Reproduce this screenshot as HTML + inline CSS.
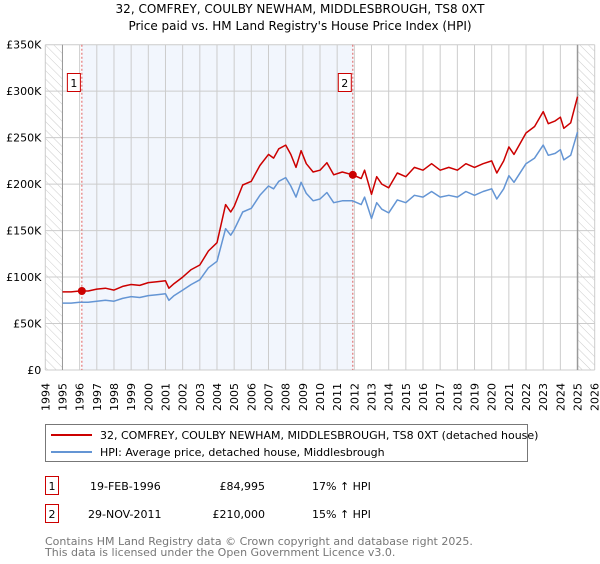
<!DOCTYPE html>
<html><head><meta charset="utf-8">
<style>
body{margin:0;background:#fff;font-family:"DejaVu Sans","Liberation Sans",sans-serif;}
svg text{font-family:"DejaVu Sans","Liberation Sans",sans-serif;}
</style></head>
<body>
<svg id="chart" width="600" height="560" xmlns="http://www.w3.org/2000/svg">
<defs>
<pattern id="hatch" width="6" height="6" patternUnits="userSpaceOnUse" patternTransform="rotate(-45)">
<line x1="0" y1="0" x2="0" y2="6" stroke="#ccc" stroke-width="1"/>
</pattern>
</defs>
<text x="300" y="13" text-anchor="middle" font-size="12">32, COMFREY, COULBY NEWHAM, MIDDLESBROUGH, TS8 0XT</text>
<text x="300" y="30" text-anchor="middle" font-size="12">Price paid vs. HM Land Registry's House Price Index (HPI)</text>
<g id="plot"></g>
<g>
<rect x="45.5" y="424.5" width="482" height="37" fill="#fff" stroke="#777"/>
<line x1="51" y1="435" x2="92" y2="435" stroke="#cc0000" stroke-width="2"/>
<text x="100" y="439" font-size="11">32, COMFREY, COULBY NEWHAM, MIDDLESBROUGH, TS8 0XT (detached house)</text>
<line x1="51" y1="452" x2="92" y2="452" stroke="#6495d4" stroke-width="2"/>
<text x="100" y="456" font-size="11">HPI: Average price, detached house, Middlesbrough</text>
</g>
<g>
<rect x="45.5" y="476.5" width="13" height="18" fill="#fff" stroke="#cc0000"/>
<text x="52" y="490" font-size="11" text-anchor="middle">1</text>
<text x="90" y="490" font-size="11">19-FEB-1996</text>
<text x="265" y="490" font-size="11" text-anchor="end">£84,995</text>
<text x="312" y="490" font-size="11">17% ↑ HPI</text>
<rect x="45.5" y="504.5" width="13" height="18" fill="#fff" stroke="#cc0000"/>
<text x="52" y="518" font-size="11" text-anchor="middle">2</text>
<text x="88" y="518" font-size="11">29-NOV-2011</text>
<text x="265" y="518" font-size="11" text-anchor="end">£210,000</text>
<text x="312" y="518" font-size="11">15% ↑ HPI</text>
</g>
<text x="45" y="545" font-size="11" fill="#777">Contains HM Land Registry data © Crown copyright and database right 2025.</text>
<text x="45" y="556" font-size="11" fill="#777">This data is licensed under the Open Government Licence v3.0.</text>
</svg>
<script>
const years=[1995,1995.5,1996,1996.5,1997,1997.5,1998,1998.5,1999,1999.5,2000,2000.5,2001,2001.2,2001.5,2002,2002.5,2003,2003.5,2004,2004.5,2004.8,2005,2005.5,2006,2006.5,2007,2007.3,2007.6,2008,2008.3,2008.6,2008.9,2009.2,2009.6,2010,2010.4,2010.8,2011.3,2011.9,2012.4,2012.6,2013,2013.3,2013.6,2014,2014.5,2015,2015.5,2016,2016.5,2017,2017.5,2018,2018.5,2019,2019.5,2020,2020.3,2020.7,2021,2021.3,2022,2022.5,2023,2023.3,2023.7,2024,2024.2,2024.6,2025.0];
const propertyValues=[84,84,85,85,87,88,86,90,92,91,94,95,96,88,93,100,108,113,128,137,178,170,176,199,203,220,232,228,238,242,232,218,236,222,213,215,223,210,213,210,206,215,189,208,200,196,212,208,218,215,222,215,218,215,222,218,222,225,212,225,240,232,255,262,278,265,268,272,260,266,294];
const hpiValues=[72,72,73,73,74,75,74,77,79,78,80,81,82,75,80,86,92,97,110,117,152,145,151,170,174,188,198,195,203,207,198,186,202,190,182,184,191,180,182,182,178,186,163,180,173,169,183,180,188,186,192,186,188,186,192,188,192,195,184,195,209,202,222,228,242,231,233,237,226,231,256];
const yTicks=[0,50,100,150,200,250,300,350];
const yTickLabels=["£0","£50K","£100K","£150K","£200K","£250K","£300K","£350K"];
const xTicks=[1994,1995,1996,1997,1998,1999,2000,2001,2002,2003,2004,2005,2006,2007,2008,2009,2010,2011,2012,2013,2014,2015,2016,2017,2018,2019,2020,2021,2022,2023,2024,2025,2026];
const saleYears=[1996.13,2011.91];
const saleValues=[84.995,210];
const saleLabels=["1","2"];

const L=45.3,R=594.7,T=44.7,B=370;
const X=y=>L+(y-1994)/32*(R-L);
const Y=v=>B-v/350*(B-T);
const NS="http://www.w3.org/2000/svg";
const g=document.getElementById('plot');
function mk(tag,attrs,parent){const e=document.createElementNS(NS,tag);for(const k in attrs)e.setAttribute(k,attrs[k]);(parent||g).appendChild(e);return e;}

let r=mk('rect',{x:L,y:T,width:R-L,height:B-T,fill:'#fff'});


r=mk('rect',{x:X(saleYears[0]),y:T,width:X(saleYears[1])-X(saleYears[0]),height:B-T,fill:'#f2f6fd'});


r=mk('rect',{x:L,y:T,width:X(1995)-L,height:B-T,fill:'url(#hatch)'});


r=mk('rect',{x:X(2025.0),y:T,width:R-X(2025.0),height:B-T,fill:'url(#hatch)'});



xTicks.forEach(t=>{
  const l=mk('line',{x1:X(t),x2:X(t),y1:T,y2:B,stroke:'#ccc','stroke-width':1});
  
  
  const tx=mk('text',{x:0,y:0,'font-size':11,transform:`translate(${X(t)+4},${B+41}) rotate(-90)`});
  tx.textContent=t;
  
  
});
yTicks.forEach((t,i)=>{
  const l=mk('line',{x1:L,x2:R,y1:Y(t),y2:Y(t),stroke:'#ccc','stroke-width':1});
  
  
  const tx=mk('text',{x:L-4,y:Y(t)+4,'font-size':11,'text-anchor':'end'});
  tx.textContent=yTickLabels[i];
  
  
});
let l=mk('line',{x1:X(1995),x2:X(1995),y1:T,y2:B,stroke:'#999','stroke-width':1});


l=mk('line',{x1:X(2025.0),x2:X(2025.0),y1:T,y2:B,stroke:'#999','stroke-width':1.5});



saleYears.forEach((s,i)=>{
  const d=mk('line',{x1:X(s),x2:X(s),y1:T,y2:B,stroke:'#e06060','stroke-width':1,'stroke-dasharray':'2,2'});
  
  
  const b=mk('rect',{x:X(s)-14.5,y:73.5,width:13,height:18,fill:'#fff',stroke:'#cc0000'});
  
  
  const t=mk('text',{x:X(s)-8,y:87,'font-size':11,'text-anchor':'middle'});
  t.textContent=saleLabels[i];
  
  
});

const pts=v=>years.map((y,i)=>X(y).toFixed(1)+','+Y(v[i]).toFixed(1)).join(' ');
let p=mk('polyline',{points:pts(hpiValues),fill:'none',stroke:'#6495d4','stroke-width':1.5,'stroke-linejoin':'round'});


p=mk('polyline',{points:pts(propertyValues),fill:'none',stroke:'#cc0000','stroke-width':1.5,'stroke-linejoin':'round'});


saleYears.forEach((s,i)=>{
  const c=mk('circle',{cx:X(s),cy:Y(saleValues[i]),r:4,fill:'#cc0000'});
  
  
});
</script>
</body></html>
